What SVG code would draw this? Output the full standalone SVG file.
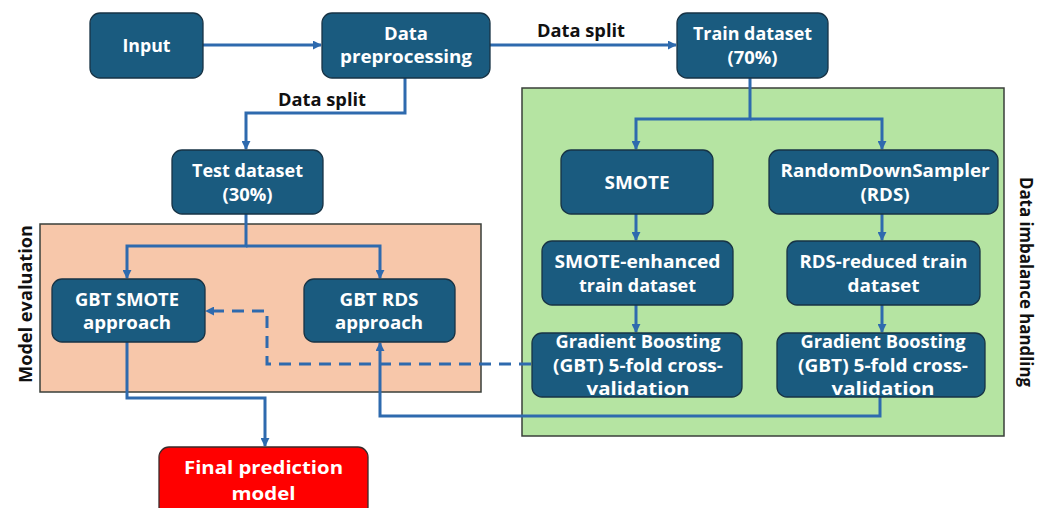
<svg xmlns="http://www.w3.org/2000/svg" width="1045" height="508" viewBox="0 0 1045 508">
  <defs>
    <marker id="arr" viewBox="0 0 10 10" refX="9" refY="5" markerWidth="9" markerHeight="9" markerUnits="userSpaceOnUse" orient="auto">
      <path d="M0,0 L10,5 L0,10 z" fill="#2E6AAE"/>
    </marker>
    <style>
      .node rect { fill: #1A5B7F; stroke: #173345; stroke-width: 1.3; }
      .node text { fill: #FFFFFF; font-family: "Open Sans", "Liberation Sans", sans-serif; font-weight: 700; font-size: 18px; text-anchor: middle; }
      .final rect { fill: #FF0000; stroke: #3A2A2A; stroke-width: 1.3; }
      .conn path { fill: none; stroke: #2E6AAE; stroke-width: 3; }
      .conn .dash { stroke-dasharray: 12 8; }
      .label { fill: #111111; font-family: "Open Sans", "Liberation Sans", sans-serif; font-weight: 700; font-size: 18px; text-anchor: middle; }
      .group { stroke: #3A3F3A; stroke-width: 1.5; }
    </style>
  </defs>

  <rect width="1045" height="508" fill="#FFFFFF"/>

  <!-- group panels -->
  <rect id="panel-balance" class="group" x="522" y="88" width="482" height="348" fill="#B5E4A2"/>
  <rect id="panel-eval" class="group" x="40" y="224" width="441" height="168" fill="#F7C7AA"/>
  <text class="label" transform="translate(1020,282) rotate(90)" textLength="210" lengthAdjust="spacingAndGlyphs">Data imbalance handling</text>
  <text class="label" transform="translate(32,304) rotate(-90)" textLength="158" lengthAdjust="spacingAndGlyphs">Model evaluation</text>
  <text class="label" x="581" y="37" textLength="88" lengthAdjust="spacingAndGlyphs">Data split</text>
  <text class="label" x="322" y="106" textLength="88" lengthAdjust="spacingAndGlyphs">Data split</text>

  <!-- connectors -->
  <g id="connectors" class="conn">
    <path d="M203,45 H321" marker-end="url(#arr)"/>
    <path d="M490,45 H676" marker-end="url(#arr)"/>
    <path d="M405,78 V113 H246 V149" marker-end="url(#arr)"/>
    <path d="M750,78 V119 H636 V149" marker-end="url(#arr)"/>
    <path d="M750,119 H882 V149" marker-end="url(#arr)"/>
    <path d="M246,214 V246 H127 V278" marker-end="url(#arr)"/>
    <path d="M246,246 H380 V278" marker-end="url(#arr)"/>
    <path d="M636,214 V240" marker-end="url(#arr)"/>
    <path d="M882,214 V240" marker-end="url(#arr)"/>
    <path d="M636,305 V332" marker-end="url(#arr)"/>
    <path d="M882,305 V332" marker-end="url(#arr)"/>
    <path class="dash" d="M531,364 H267 V311 H206" marker-end="url(#arr)"/>
    <path d="M880,397 V416 H380 V343" marker-end="url(#arr)"/>
    <path d="M127,342 V398 H265 V446" marker-end="url(#arr)"/>
  </g>

  <!-- nodes -->
  <g id="input" class="node">
    <rect x="90" y="13" width="113" height="65" rx="10"/>
    <text x="146.5" y="52" textLength="48" lengthAdjust="spacingAndGlyphs">Input</text>
  </g>
  <g id="preprocessing" class="node">
    <rect x="322" y="13" width="168" height="65" rx="10"/>
    <text x="406" y="40" textLength="44" lengthAdjust="spacingAndGlyphs">Data</text>
    <text x="406" y="63" textLength="132" lengthAdjust="spacingAndGlyphs">preprocessing</text>
  </g>
  <g id="train" class="node">
    <rect x="677" y="13" width="151" height="65" rx="10"/>
    <text x="752.5" y="40" textLength="119" lengthAdjust="spacingAndGlyphs">Train dataset</text>
    <text x="752.5" y="64" textLength="50" lengthAdjust="spacingAndGlyphs">(70%)</text>
  </g>
  <g id="test" class="node">
    <rect x="172" y="150" width="151" height="64" rx="10"/>
    <text x="247.5" y="177" textLength="111" lengthAdjust="spacingAndGlyphs">Test dataset</text>
    <text x="247.5" y="201" textLength="50" lengthAdjust="spacingAndGlyphs">(30%)</text>
  </g>
  <g id="smote" class="node">
    <rect x="561" y="150" width="152" height="64" rx="10"/>
    <text x="637" y="189" textLength="65" lengthAdjust="spacingAndGlyphs">SMOTE</text>
  </g>
  <g id="rds" class="node">
    <rect x="769" y="150" width="229" height="64" rx="10"/>
    <text x="885" y="177" textLength="209" lengthAdjust="spacingAndGlyphs">RandomDownSampler</text>
    <text x="885" y="201" textLength="49" lengthAdjust="spacingAndGlyphs">(RDS)</text>
  </g>
  <g id="smote-train" class="node">
    <rect x="542" y="241" width="191" height="64" rx="10"/>
    <text x="637.5" y="268" textLength="166" lengthAdjust="spacingAndGlyphs">SMOTE-enhanced</text>
    <text x="637.5" y="292" textLength="117" lengthAdjust="spacingAndGlyphs">train dataset</text>
  </g>
  <g id="rds-train" class="node">
    <rect x="787" y="241" width="193" height="64" rx="10"/>
    <text x="883.5" y="268" textLength="168" lengthAdjust="spacingAndGlyphs">RDS-reduced train</text>
    <text x="883.5" y="292" textLength="72" lengthAdjust="spacingAndGlyphs">dataset</text>
  </g>
  <g id="gbt-cv-smote" class="node">
    <rect x="532" y="333" width="210" height="64" rx="10"/>
    <text x="638" y="348" textLength="165" lengthAdjust="spacingAndGlyphs">Gradient Boosting</text>
    <text x="638" y="372" textLength="170" lengthAdjust="spacingAndGlyphs">(GBT) 5-fold cross-</text>
    <text x="638" y="395" textLength="103" lengthAdjust="spacingAndGlyphs">validation</text>
  </g>
  <g id="gbt-cv-rds" class="node">
    <rect x="777" y="333" width="208" height="64" rx="10"/>
    <text x="883" y="348" textLength="165" lengthAdjust="spacingAndGlyphs">Gradient Boosting</text>
    <text x="883" y="372" textLength="170" lengthAdjust="spacingAndGlyphs">(GBT) 5-fold cross-</text>
    <text x="883" y="395" textLength="103" lengthAdjust="spacingAndGlyphs">validation</text>
  </g>
  <g id="gbt-smote" class="node">
    <rect x="52" y="279" width="153" height="63" rx="10"/>
    <text x="127" y="306" textLength="104" lengthAdjust="spacingAndGlyphs">GBT SMOTE</text>
    <text x="127" y="329" textLength="88" lengthAdjust="spacingAndGlyphs">approach</text>
  </g>
  <g id="gbt-rds" class="node">
    <rect x="304" y="279" width="151" height="63" rx="10"/>
    <text x="379" y="306" textLength="79" lengthAdjust="spacingAndGlyphs">GBT RDS</text>
    <text x="379" y="329" textLength="88" lengthAdjust="spacingAndGlyphs">approach</text>
  </g>
  <g id="final" class="node final">
    <rect x="159" y="447" width="209" height="70" rx="10"/>
    <text x="263.5" y="474" textLength="159" lengthAdjust="spacingAndGlyphs">Final prediction</text>
    <text x="263.5" y="500" textLength="64" lengthAdjust="spacingAndGlyphs">model</text>
  </g>
</svg>
